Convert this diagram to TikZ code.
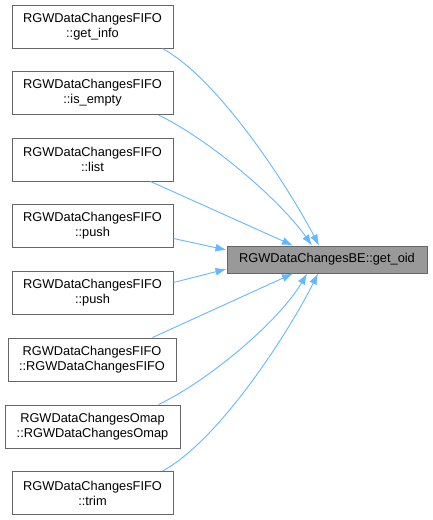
\documentclass[tikz,border=0pt]{standalone}
\usepackage{fontspec}
\setmainfont{Liberation Sans}
\usetikzlibrary{arrows.meta}
\definecolor{edgeblue}{HTML}{63B8FF}
\definecolor{boxgray}{HTML}{666666}
\definecolor{fillgray}{HTML}{999999}
\tikzset{
  fnbox/.style={draw=boxgray, line width=1pt, fill=white, align=center, inner sep=0pt,
    font=\fontsize{12.8}{15}\selectfont, minimum height=43pt},
  target/.style={draw=boxgray, line width=1pt, fill=fillgray, inner sep=0pt,
    font=\fontsize{12.8}{15}\selectfont, minimum width=200pt, minimum height=27pt},
  calls/.style={draw=edgeblue, line width=0.9pt, -{Latex[length=11pt,width=8pt]}}
}
\begin{document}
\begin{tikzpicture}[x=1pt,y=-1pt]
\useasboundingbox (0,0) rectangle (432,520);
\node[target] (t) at (327,259.5) {RGWDataChangesBE::get\_oid};
\node[fnbox, minimum width=161pt] (b1) at (92.5,26.5) {RGWDataChangesFIFO\\::get\_info};
\node[fnbox, minimum width=161pt] (b2) at (92.5,93) {RGWDataChangesFIFO\\::is\_empty};
\node[fnbox, minimum width=161pt] (b3) at (92.5,159.5) {RGWDataChangesFIFO\\::list};
\node[fnbox, minimum width=161pt] (b4) at (92.5,226) {RGWDataChangesFIFO\\::push};
\node[fnbox, minimum width=161pt] (b5) at (92.5,292.5) {RGWDataChangesFIFO\\::push};
\node[fnbox, minimum width=168pt] (b6) at (92,359.5) {RGWDataChangesFIFO\\::RGWDataChangesFIFO};
\node[fnbox, minimum width=175pt] (b7) at (92.5,426.5) {RGWDataChangesOmap\\::RGWDataChangesOmap};
\node[fnbox, minimum width=161pt] (b8) at (92.5,493) {RGWDataChangesFIFO\\::trim};
\draw[calls] ([xshift=-11pt]b1.south east) .. controls (220,80) and (290,190) .. ([xshift=-8pt]t.north);
\draw[calls] ([xshift=-15pt]b2.south east) .. controls (210,140) and (280,200) .. ([xshift=-15pt]t.north);
\draw[calls] ([xshift=-23pt]b3.south east) -- ([xshift=-34pt]t.north);
\draw[calls] ([yshift=-12.5pt]b4.east) -- ([yshift=9.5pt]t.west);
\draw[calls] ([yshift=10pt]b5.east) -- ([yshift=-9.5pt]t.west);
\draw[calls] ([xshift=-24pt]b6.north east) -- ([xshift=-34pt]t.south);
\draw[calls] ([xshift=-22pt]b7.north east) .. controls (210,380) and (280,320) .. ([xshift=-20pt]t.south);
\draw[calls] ([xshift=-11pt]b8.north east) .. controls (220,440) and (290,330) .. ([xshift=-9pt]t.south);
\end{tikzpicture}
\end{document}
